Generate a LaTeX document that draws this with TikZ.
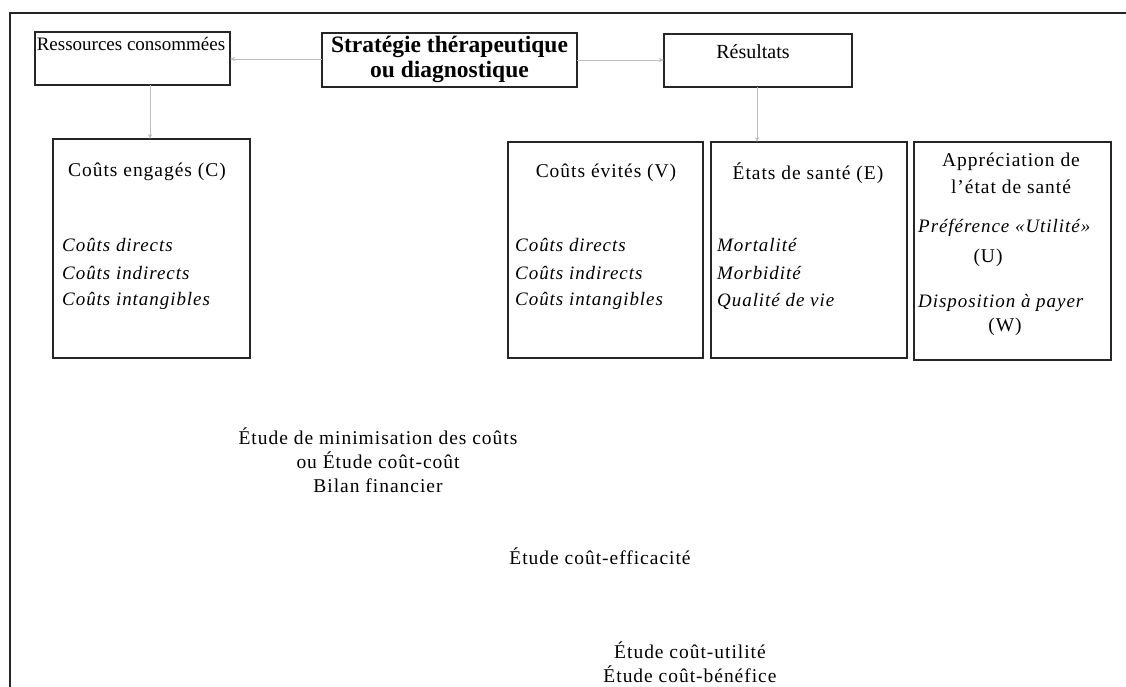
\documentclass[tikz,border=0pt]{standalone}
\usepackage{fontspec}
\setmainfont{Liberation Serif}
\newfontfamily\wide[LetterSpace=5]{Liberation Serif}
\usetikzlibrary{arrows.meta}
\begin{document}
\begin{tikzpicture}[x=1pt,y=-1pt,
  box/.style={draw=black!85,line width=1.6pt,inner sep=0pt},
  head/.style={font=\fontsize{19}{23}\selectfont,align=center,inner sep=0pt},
  bighead/.style={font=\fontsize{23.5}{25}\selectfont\bfseries,align=center,inner sep=0pt},
  boxhead/.style={font=\wide\fontsize{19.5}{27}\selectfont,align=center,inner sep=0pt},
  item/.style={font=\wide\fontsize{19}{22}\selectfont\itshape,anchor=west,inner sep=0pt},
  study/.style={font=\wide\fontsize{19.5}{24}\selectfont,align=center,inner sep=0pt},
  link/.style={draw=black!25,line width=0.5pt,-{Stealth[length=5pt,width=4pt]}}]
\useasboundingbox (0,0) rectangle (1126,687);
\fill[white] (0,0) rectangle (1126,687);
% outer frame: top and left edges
\draw[line width=2pt,black!85] (10,687) -- (10,13) -- (1126,13);

% top row
\draw[box] (35,32) rectangle (230,85);
\node[head] (res) at (131,44) {Ressources consommées};
\draw[box] (322,33) rectangle (577,87);
\node[bighead] (strat) at (449.5,59.5) {Stratégie thérapeutique\\ou diagnostique};
\draw[box] (664,34) rectangle (852,87);
\node[head,font=\fontsize{20}{24}\selectfont] (resu) at (753,52) {Résultats};

\coordinate (resS) at (150,85);
\coordinate (resE) at (230,59);
\coordinate (stratW) at (322,59);
\coordinate (stratE) at (577,60);
\coordinate (resuW) at (664,60);
\coordinate (resuS) at (757,87);
\coordinate (cTop) at (150,139);
\coordinate (eTop) at (757,142);

% column boxes
\draw[box] (53,139) rectangle (250,358);
\node[boxhead] (c) at (147,172) {Coûts engagés (C)};
\node[item] (c1) at (62,245) {Coûts directs};
\node[item] (c2) at (62,273) {Coûts indirects};
\node[item] (c3) at (62,301) {Coûts intangibles};

\draw[box] (508,142) rectangle (703,358);
\node[boxhead] (v) at (606,173) {Coûts évités (V)};
\node[item] (v1) at (515,245) {Coûts directs};
\node[item] (v2) at (515,273) {Coûts indirects};
\node[item] (v3) at (515,301) {Coûts intangibles};

\draw[box] (711,142) rectangle (907,358);
\node[boxhead] (e) at (808,173) {États de santé (E)};
\node[item] (e1) at (717,245) {Mortalité};
\node[item] (e2) at (717,273) {Morbidité};
\node[item] (e3) at (717,301) {Qualité de vie};

\draw[box] (914,142) rectangle (1111,360);
\node[boxhead] (a) at (1011,173.5) {Appréciation de\\l’état de santé};
\node[item] (a1) at (918,228) {Préférence «Utilité»};
\node[boxhead] (a2) at (988,258) {(U)};
\node[item] (a3) at (918,303) {Disposition à payer};
\node[boxhead] (a4) at (1005,327) {(W)};

% faint connectors
\draw[link] (stratW) -- (resE);
\draw[link] (stratE) -- (resuW);
\draw[link] (resS) -- (cTop);
\draw[link] (resuS) -- (eTop);

% kinds of study
\node[study] (s1) at (378,460) {Étude de minimisation des coûts\\ou Étude coût-coût\\Bilan financier};
\node[study] (s2) at (600,556) {Étude coût-efficacité};
\node[study] (s3) at (690,662) {Étude coût-utilité\\Étude coût-bénéfice};
\end{tikzpicture}
\end{document}
